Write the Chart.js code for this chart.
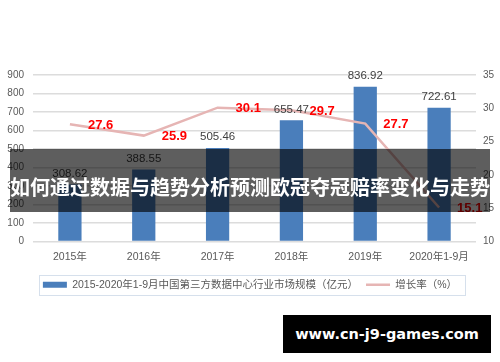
<!DOCTYPE html>
<html>
<head>
<meta charset="utf-8">
<script src="https://cdn.jsdelivr.net/npm/chart.js@4/dist/chart.umd.min.js"></script>
<style>
  html, body { margin: 0; padding: 0; background: #fff; }
  #wrap { position: relative; width: 500px; height: 362px; overflow: hidden; }
  #c { position: absolute; left: 0; top: 0; }
  #banner { position: absolute; left: 10px; top: 149px; width: 480px; height: 63px; background: rgba(0,0,0,0.63); }
  #title { position: absolute; left: 10px; top: 172px; width: 480px; height: 26px; line-height: 26px;
           color: #fff; font: bold 20px "Noto Sans CJK SC", sans-serif; text-align: center; white-space: nowrap; }
  #wm { position: absolute; left: 283px; top: 315px; width: 208px; height: 38px; background: #000;
        color: #fff; font: bold 14.5px "DejaVu Sans", sans-serif; line-height: 38px; text-align: center; white-space: nowrap; }
</style>
</head>
<body>
<div id="wrap">
  <canvas id="c" width="500" height="362"></canvas>
  <div id="banner"></div>
  <div id="title">如何通过数据与趋势分析预测欧冠夺冠赔率变化与走势</div>
  <div id="wm">www.cn-j9-games.com</div>
</div>
<script>
const categories = ['2015年', '2016年', '2017年', '2018年', '2019年', '2020年1-9月'];
const marketSize = [308.62, 388.55, 505.46, 655.47, 836.92, 722.61];
const growthRate = [27.6, 25.9, 30.1, 29.7, 27.7, 15.1];
const barLabel = '2015-2020年1-9月中国第三方数据中心行业市场规模（亿元）';
const lineLabel = '增长率（%）';

const FONT = '"Liberation Sans", "Noto Sans CJK SC", sans-serif';

const labelPlugin = {
  id: 'valueLabels',
  afterDatasetsDraw(chart) {
    const ctx = chart.ctx;
    ctx.save();
    const barMeta = chart.getDatasetMeta(0);
    ctx.font = '11.5px ' + FONT;
    ctx.fillStyle = '#404040';
    ctx.textAlign = 'center';
    ctx.textBaseline = 'bottom';
    barMeta.data.forEach((el, i) => {
      ctx.fillText(marketSize[i].toFixed(2), el.x, el.y - 5);
    });
    const lineMeta = chart.getDatasetMeta(1);
    ctx.font = 'bold 13px ' + FONT;
    ctx.fillStyle = '#ff0000';
    ctx.textAlign = 'left';
    ctx.textBaseline = 'middle';
    lineMeta.data.forEach((el, i) => {
      ctx.fillText(growthRate[i].toFixed(1), el.x + 18, el.y + 1);
    });
    ctx.restore();
  },
  afterDraw(chart) {
    const lg = chart.legend;
    if (!lg || !lg.legendHitBoxes || !lg.legendHitBoxes.length) return;
    const hb = lg.legendHitBoxes;
    let l = Infinity, r = -Infinity, t = Infinity, b = -Infinity;
    hb.forEach(h => { l = Math.min(l, h.left); r = Math.max(r, h.left + h.width); t = Math.min(t, h.top); b = Math.max(b, h.top + h.height); });
    const ctx = chart.ctx;
    ctx.save();
    ctx.strokeStyle = '#d6e0ec';
    ctx.lineWidth = 1;
    ctx.strokeRect(Math.round(l - 4) + 0.5, Math.round(t - 5) + 0.5, Math.round(r - l + 12), Math.round(b - t + 9));
    ctx.restore();
  }
};

new Chart(document.getElementById('c'), {
  type: 'bar',
  data: {
    labels: categories,
    datasets: [
      {
        type: 'bar', label: barLabel, data: marketSize, yAxisID: 'y',
        backgroundColor: '#4a7ebb', borderWidth: 0,
        categoryPercentage: 1, barPercentage: 0.315, order: 2
      },
      {
        type: 'line', label: lineLabel, data: growthRate, yAxisID: 'y1',
        borderColor: '#e6b5b4', backgroundColor: '#e6b5b4', borderWidth: 2.5,
        pointRadius: 0, tension: 0, order: 1
      }
    ]
  },
  options: {
    responsive: false, animation: false, devicePixelRatio: 1,
    layout: { padding: { top: 75, left: 0, right: 0, bottom: 62 } },
    plugins: {
      tooltip: { enabled: false },
      legend: {
        position: 'bottom',
        labels: {
          font: { size: 10.5, family: FONT }, color: '#595959',
          usePointStyle: true, pointStyleWidth: 24, boxWidth: 24, boxHeight: 6, padding: 8,
          generateLabels(chart) {
            const items = Chart.defaults.plugins.legend.labels.generateLabels(chart);
            items.forEach(it => {
              if (it.datasetIndex === 0) { it.pointStyle = 'rect'; it.lineWidth = 0; it.fillStyle = '#4a7ebb'; }
              else { it.pointStyle = 'line'; it.lineWidth = 2.5; it.strokeStyle = '#e6b5b4'; }
            });
            return items;
          },
          sort: (a, b) => a.datasetIndex - b.datasetIndex
        }
      }
    },
    scales: {
      x: {
        grid: { display: false, drawTicks: false }, border: { display: false },
        ticks: { color: '#595959', font: { size: 10.5, family: FONT }, padding: 9, maxRotation: 0 },
        afterFit(s) { s.height = 30; }
      },
      y: {
        position: 'left', min: 0, max: 900,
        ticks: { stepSize: 100, color: '#595959', font: { size: 10, family: FONT }, padding: 9 },
        grid: { color: '#dcdcdc', lineWidth: 1.5, drawTicks: false }, border: { display: false },
        afterFit(s) { s.width = 33; }
      },
      y1: {
        position: 'right', min: 10, max: 35,
        ticks: { stepSize: 5, color: '#595959', font: { size: 10, family: FONT }, padding: 7 },
        grid: { display: false, drawTicks: false }, border: { display: false },
        afterFit(s) { s.width = 24; }
      }
    }
  },
  plugins: [labelPlugin]
});
</script>
</body>
</html>
